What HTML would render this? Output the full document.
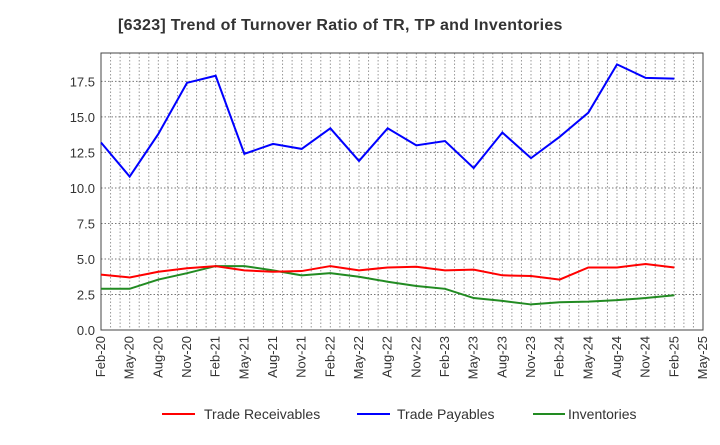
<!DOCTYPE html>
<html><head><meta charset="utf-8"><style>
body{margin:0;background:#fff;font-family:"Liberation Sans",sans-serif;}
svg text{font-family:"Liberation Sans",sans-serif;}
</style></head><body>
<svg width="720" height="440" id="c">
<text x="118" y="30" font-size="16" letter-spacing="0.3" font-weight="bold" fill="#333">[6323]  Trend of Turnover Ratio of TR, TP and Inventories</text>
<g id="grid"></g><g id="axes"></g><g id="series"></g>
<g>
<g><line x1="162" y1="414" x2="195" y2="414" stroke="#f00" stroke-width="2"/><text x="204" y="419" font-size="14" fill="#333">Trade Receivables</text></g>
<g><line x1="357" y1="414" x2="390" y2="414" stroke="#00f" stroke-width="2"/><text x="397" y="419" font-size="14" fill="#333">Trade Payables</text></g>
<g><line x1="533" y1="414" x2="565" y2="414" stroke="#228b22" stroke-width="2"/><text x="568" y="419" font-size="14" fill="#333">Inventories</text></g>
</g>
</svg>
<script>
const categories=["Feb-20","May-20","Aug-20","Nov-20","Feb-21","May-21","Aug-21","Nov-21","Feb-22","May-22","Aug-22","Nov-22","Feb-23","May-23","Aug-23","Nov-23","Feb-24","May-24","Aug-24","Nov-24","Feb-25"];
const tickLabels=["Feb-20","May-20","Aug-20","Nov-20","Feb-21","May-21","Aug-21","Nov-21","Feb-22","May-22","Aug-22","Nov-22","Feb-23","May-23","Aug-23","Nov-23","Feb-24","May-24","Aug-24","Nov-24","Feb-25","May-25"];
const yTicks=[0,2.5,5,7.5,10,12.5,15,17.5];
const receivables=[3.9,3.7,4.1,4.35,4.5,4.2,4.1,4.15,4.5,4.2,4.4,4.45,4.2,4.25,3.85,3.8,3.55,4.4,4.4,4.65,4.4];
const payables=[13.2,10.8,13.8,17.4,17.9,12.4,13.1,12.75,14.2,11.9,14.2,13.0,13.3,11.4,13.9,12.1,13.6,15.3,18.7,17.75,17.7];
const inventories=[2.9,2.9,3.55,4.0,4.5,4.5,4.2,3.85,4.0,3.75,3.4,3.1,2.9,2.25,2.05,1.8,1.95,2.0,2.1,2.25,2.45];
const L=101,R=703,T=53,B=330,YMAX=19.5;
const q=(R-L)/21;
const x=i=>L+i*q; const y=v=>B-v*(B-T)/YMAX;
const NS="http://www.w3.org/2000/svg";
function mk(t,a,p){const e=document.createElementNS(NS,t);for(const k in a)e.setAttribute(k,a[k]);p.appendChild(e);return e;}
const g=document.getElementById('grid'),ax=document.getElementById('axes'),s=document.getElementById('series');
for(let m=1;m<63;m++){const xx=L+m*q/3;const l=mk('line',{x1:xx,x2:xx,y1:T,y2:B,stroke:'#999','stroke-dasharray':'1.5,2','stroke-width':1},g);

}
yTicks.forEach(v=>{if(v>0){const l=mk('line',{x1:L,x2:R,y1:y(v),y2:y(v),stroke:'#777','stroke-dasharray':'1.5,2','stroke-width':1},g);

}
const t=mk('text',{x:L-6,y:y(v)+5,'text-anchor':'end','font-size':13,fill:'#333'},ax);t.textContent=v.toFixed(1);

});
tickLabels.forEach((lab,i)=>{const xx=x(i);const t=mk('text',{x:xx+4,y:B+6,'text-anchor':'end','font-size':13,fill:'#333',transform:`rotate(-90 ${xx+4} ${B+6})`},ax);t.textContent=lab;

});
const fr=mk('rect',{x:L,y:T,width:R-L,height:B-T,fill:'none',stroke:'#444','stroke-width':1},ax);


function line(d,c,n){const p=mk('polyline',{points:d.map((v,i)=>x(i)+','+y(v)).join(' '),fill:'none',stroke:c,'stroke-width':2},s);

}
line(inventories,'#228b22','inventories-line');
line(receivables,'#f00','trade-receivables-line');
line(payables,'#00f','trade-payables-line');
</script>
</body></html>
